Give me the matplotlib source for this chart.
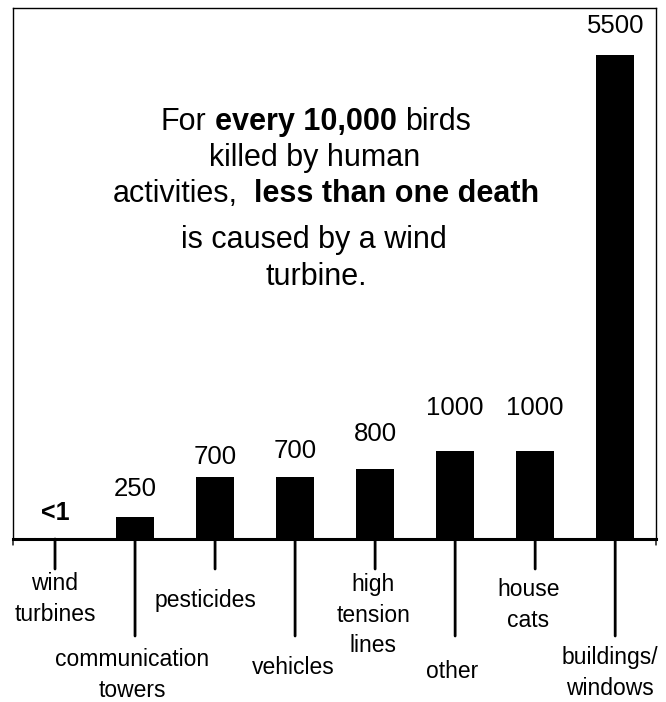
import matplotlib
matplotlib.use('Agg')
import matplotlib.pyplot as plt

plt.rcParams['font.family'] = ['Liberation Sans', 'DejaVu Sans']

# data
categories = ['wind\nturbines', 'communication\ntowers', 'pesticides', 'vehicles',
              'high\ntension\nlines', 'other', 'house\ncats', 'buildings/\nwindows']
deaths = [0, 250, 700, 700, 800, 1000, 1000, 5500]
value_labels = ['<1', '250', '700', '700', '800', '1000', '1000', '5500']

# layout (pixels): gap above bar for value text, tick length, label offsets
label_gap = [14, 16, 8, 14, 23, 31, 31, 17]
tick_len = [30, 97, 30, 97, 30, 97, 30, 97]
lab_dx = [0, -3, -10, -2, -2, -3, -7, -5]
lab_dy = [60, 136, 61, 128, 76, 133, 66, 134]

W, H = 666, 702
fig = plt.figure(figsize=(W / 100, H / 100), dpi=100)
ax = fig.add_axes([13 / W, (H - 539) / H, (656 - 13) / W, (539 - 8) / H])

x = list(range(len(deaths)))
ax.bar(x, deaths, width=0.47, color='black')
ax.set_xlim(-0.525, 7.51)
ax.set_ylim(0, 6034)
ax.set_xticks([])
ax.set_yticks([])
for s in ['top', 'left', 'right']:
    ax.spines[s].set_linewidth(1.0)
ax.spines['bottom'].set_linewidth(2.2)

px = 0.72  # points per pixel at dpi 100
for i, v in enumerate(deaths):
    bold = value_labels[i] == '<1'
    ax.annotate(value_labels[i], xy=(i, v), xytext=(0, label_gap[i] * px),
                textcoords='offset points', ha='center', va='bottom',
                fontsize=18 if bold else 18.5, fontweight='bold' if bold else 'normal')
    # tick line below the axis
    ax.annotate('', xy=(i, 0), xycoords=('data', 'axes fraction'),
                xytext=(0, -tick_len[i] * px), textcoords='offset points',
                arrowprops=dict(arrowstyle='-', lw=2, color='black',
                                shrinkA=0, shrinkB=0))
    ax.annotate(categories[i], xy=(i, 0), xycoords=('data', 'axes fraction'),
                xytext=(lab_dx[i] * px, -lab_dy[i] * px), textcoords='offset points',
                ha='center', va='center', fontsize=16.5, linespacing=1.42)

# small ticks at both ends of the axis
for xe in [0, 1]:
    ax.annotate('', xy=(xe, 0), xycoords='axes fraction',
                xytext=(0, -6 * px), textcoords='offset points',
                arrowprops=dict(arrowstyle='-', lw=1, color='black',
                                shrinkA=0, shrinkB=0))

# message text with mixed weights
msg_lines = [
    [('For', 'normal'), ('every 10,000', 'bold'), ('birds', 'normal')],
    [('killed by human', 'normal')],
    [('activities,', 'normal'), ('', 'normal'), ('less than one death', 'bold')],
    [('is caused by a wind', 'normal')],
    [('turbine.', 'normal')],
]
msg_cx = [316, 315, 326, 314, 316]
msg_base = [130, 166, 202, 248, 285]
msg_size = 22

renderer = fig.canvas.get_renderer()


def text_w(s, weight):
    t = fig.text(0, 0, s, fontsize=msg_size, fontweight=weight)
    w = t.get_window_extent(renderer).width
    t.remove()
    return w


space_w = text_w('a a', 'normal') - text_w('aa', 'normal')
for parts, cx, yb in zip(msg_lines, msg_cx, msg_base):
    widths = [text_w(p, wt) if p else 0 for p, wt in parts]
    total = sum(widths) + space_w * (len(parts) - 1)
    xpos = cx - total / 2
    for (p, wt), w in zip(parts, widths):
        if p:
            fig.text(xpos / 100, (H - yb) / 100, p, fontsize=msg_size, fontweight=wt,
                     ha='left', va='baseline', transform=fig.dpi_scale_trans)
        xpos += w + space_w

fig.savefig('out.png', dpi=100)
